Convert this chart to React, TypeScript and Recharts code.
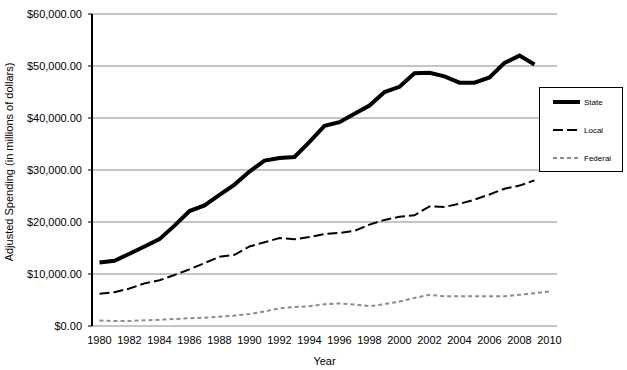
import React from 'react';
import {
  LineChart,
  Line,
  XAxis,
  YAxis,
  CartesianGrid,
  Legend,
} from 'recharts';

const years = [
  1980, 1981, 1982, 1983, 1984, 1985, 1986, 1987, 1988, 1989,
  1990, 1991, 1992, 1993, 1994, 1995, 1996, 1997, 1998, 1999,
  2000, 2001, 2002, 2003, 2004, 2005, 2006, 2007, 2008, 2009, 2010,
];

// adjusted spending, millions of dollars
const stateSpending = [
  12200, 12550, 13900, 15300, 16700, 19300, 22100, 23200, 25200, 27200,
  29700, 31800, 32300, 32500, 35400, 38500, 39200, 40800, 42400, 45000,
  46000, 48600, 48700, 48000, 46800, 46800, 47800, 50600, 52000, 50300, null,
];
const localSpending = [
  6200, 6500, 7200, 8200, 8800, 9800, 10900, 12100, 13300, 13700,
  15300, 16100, 16900, 16700, 17100, 17700, 17900, 18300, 19500, 20400,
  21000, 21300, 23000, 22900, 23500, 24300, 25300, 26400, 27000, 28000, null,
];
const federalSpending = [
  1050, 950, 950, 1100, 1200, 1350, 1500, 1600, 1800, 2000,
  2300, 2800, 3400, 3650, 3800, 4200, 4350, 4150, 3800, 4200,
  4700, 5400, 6000, 5700, 5700, 5700, 5700, 5700, 6000, 6300, 6650,
];

const yTicks = [0, 10000, 20000, 30000, 40000, 50000, 60000];
const yearLabels = [1980, 1982, 1984, 1986, 1988, 1990, 1992, 1994, 1996, 1998, 2000, 2002, 2004, 2006, 2008, 2010];
const tickBounds = [...years.map((y) => y - 0.5), 2010.5];

const series = [
  { key: 'state', name: 'State', color: '#000000', width: 4, dash: undefined },
  { key: 'local', name: 'Local', color: '#000000', width: 2, dash: '10 4' },
  { key: 'federal', name: 'Federal', color: '#8c8c8c', width: 2, dash: '4 3' },
];

const data = years.map((year, i) => ({
  year,
  state: stateSpending[i],
  local: localSpending[i],
  federal: federalSpending[i],
}));

const font = '"Liberation Sans", Arial, sans-serif';

const money = (v: number) =>
  '$' + v.toLocaleString('en-US', { minimumFractionDigits: 2, maximumFractionDigits: 2 });

function LegendBox() {
  return (
    <div
      style={{
        width: 82,
        height: 83,
        border: '1px solid #000',
        background: '#fff',
        fontFamily: font,
        fontSize: 8,
        color: '#000',
        boxSizing: 'content-box',
      }}
    >
      {series.map((s) => (
        <div key={s.key} style={{ display: 'flex', alignItems: 'center', height: 28 }}>
          <svg width={44} height={10}>
            <line
              x1={13}
              x2={40}
              y1={5}
              y2={5}
              stroke={s.color}
              strokeWidth={s.width}
              strokeDasharray={s.dash}
            />
          </svg>
          <span>{s.name}</span>
        </div>
      ))}
    </div>
  );
}

export default function App() {
  return (
    <div style={{ position: 'absolute', left: 0, top: 0, background: '#fff' }}>
      <LineChart
        width={627}
        height={370}
        data={data}
        margin={{ top: 14, right: 70, bottom: 0, left: 0 }}
        style={{ fontFamily: font }}
      >
        <CartesianGrid vertical={false} stroke="#8c8c8c" strokeWidth={1} />
        <XAxis
          xAxisId="bounds"
          type="number"
          domain={[1979.5, 2010.5]}
          ticks={tickBounds}
          tick={() => <g />}
          tickSize={4}
          height={0}
          axisLine={{ stroke: '#000', strokeWidth: 2 }}
          tickLine={{ stroke: '#000' }}
        />
        <XAxis
          dataKey="year"
          type="number"
          domain={[1979.5, 2010.5]}
          ticks={yearLabels}
          tickLine={false}
          axisLine={false}
          tickMargin={4}
          tick={{ fill: '#000', fontSize: 11 }}
          height={44}
          label={{ value: 'Year', position: 'insideBottom', offset: 5, fill: '#000', fontSize: 11 }}
        />
        <YAxis
          domain={[0, 60000]}
          ticks={yTicks}
          tickFormatter={money}
          width={92}
          tickSize={4}
          tickMargin={6}
          tick={{ fill: '#000', fontSize: 11 }}
          axisLine={{ stroke: '#000', strokeWidth: 2 }}
          tickLine={{ stroke: '#000' }}
          label={{
            value: 'Adjusted Spending (in millions of dollars)',
            angle: -90,
            position: 'insideLeft',
            offset: 9,
            dy: -8,
            fill: '#000',
            fontSize: 11,
            style: { textAnchor: 'middle' },
          }}
        />
        <YAxis
          yAxisId="frame"
          orientation="right"
          domain={[0, 60000]}
          width={0}
          tick={false}
          tickLine={false}
          axisLine={{ stroke: '#808080', strokeWidth: 2 }}
        />
        {series.map((s) => (
          <Line
            key={s.key}
            dataKey={s.key}
            name={s.name}
            type="linear"
            stroke={s.color}
            strokeWidth={s.width}
            strokeDasharray={s.dash}
            dot={false}
            activeDot={false}
            connectNulls={false}
            isAnimationActive={false}
          />
        ))}
        <Legend
          layout="vertical"
          align="center"
          verticalAlign="middle"
          content={() => <LegendBox />}
          wrapperStyle={{ left: 539, top: 87, width: 84, height: 85 }}
        />
      </LineChart>
    </div>
  );
}
